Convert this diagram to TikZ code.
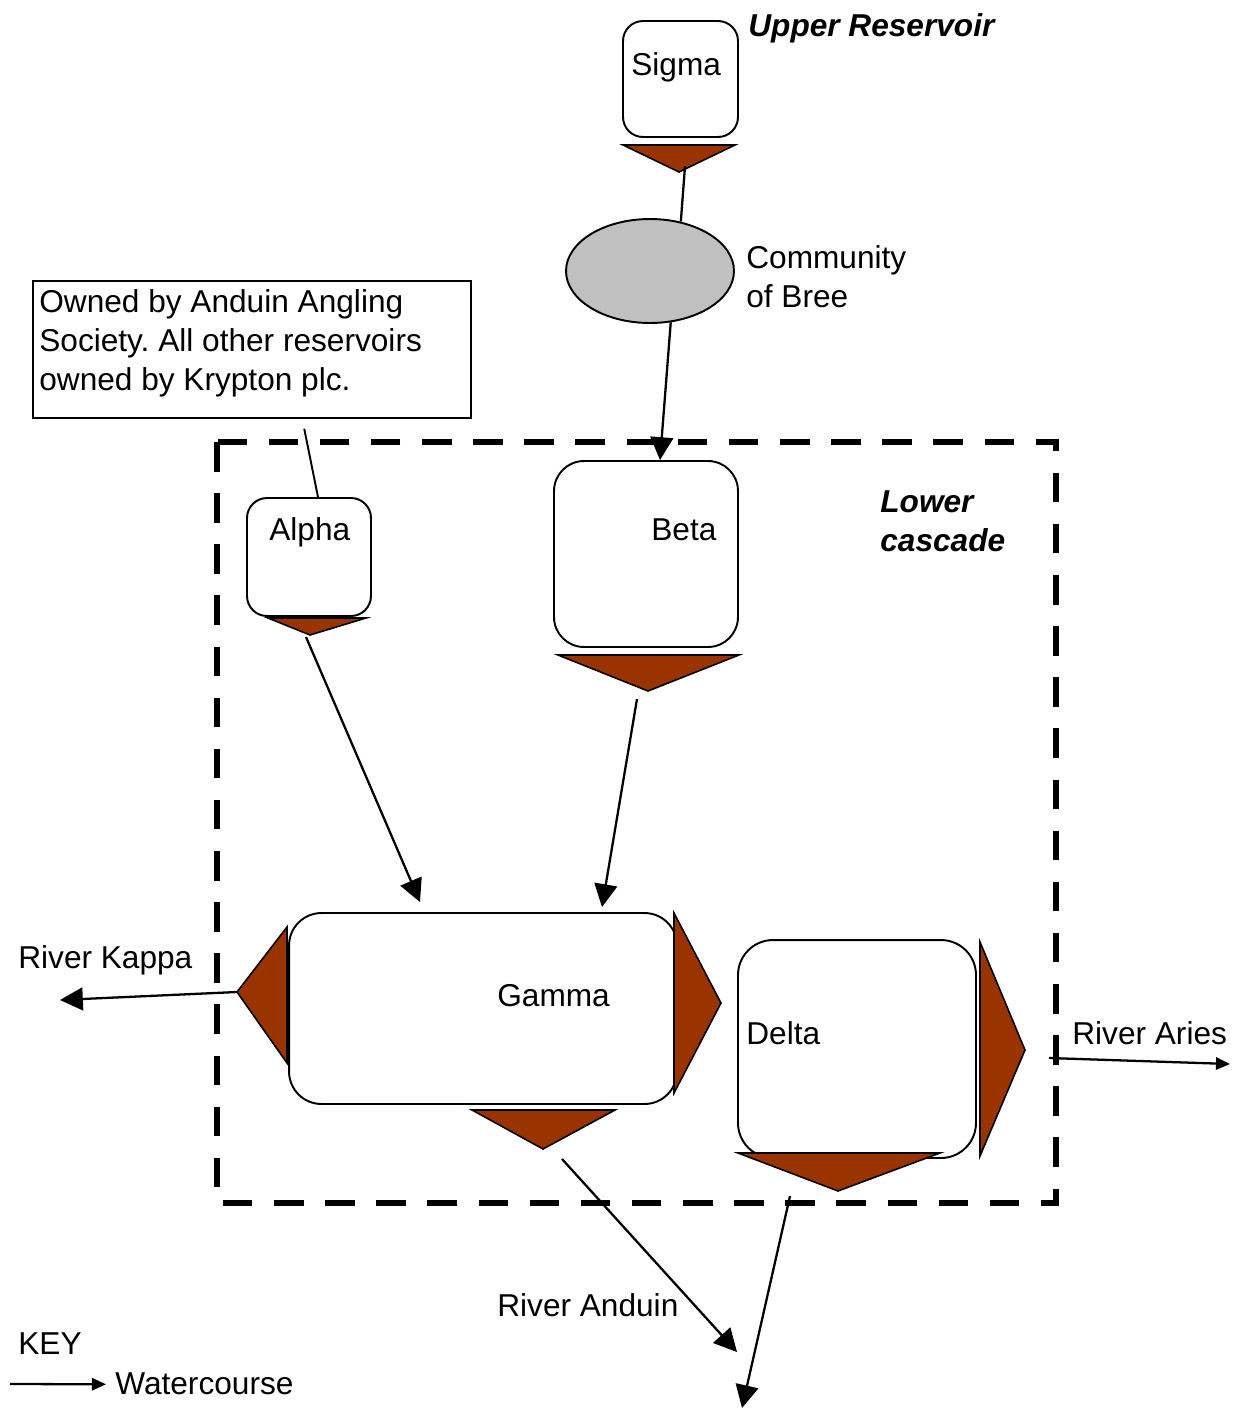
\documentclass[tikz,border=0pt]{standalone}
\usepackage{fontspec}
\setmainfont{Liberation Sans}
\usetikzlibrary{arrows.meta,calc,shapes.geometric}
\definecolor{valvebrown}{HTML}{993300}
\definecolor{breegray}{HTML}{C0C0C0}
\frenchspacing

\begin{document}
\begin{tikzpicture}[x=0.02cm, y=-0.02cm,
    font=\fontsize{18}{22}\selectfont,
    res/.style={draw, line width=1.1pt, fill=white, rounded corners=#1},
    res/.default=0.4cm,
    valve/.style={draw, line width=0.9pt, fill=valvebrown, line join=miter},
    flow/.style={line width=1.3pt, -{Triangle[length=13pt,width=13pt]}},
    thin flow/.style={line width=1.3pt, -{Triangle[length=8pt,width=7pt]}},
    txt/.style={inner sep=0pt, anchor=base west},
    cascade/.style={line width=3.4pt, dash pattern=on 16.8pt off 12.3pt}]
    \useasboundingbox (0,0) rectangle (1238,1410);

    % Lower cascade boundary (base of a multi-line node is its last line)
    \draw[cascade] (217,442) rectangle (1056,1203);
    \node[txt, font=\fontsize{18}{22}\selectfont\bfseries\itshape, align=left] (lower) at (880,551) {Lower\\cascade};

    % Reservoirs
    \node[res] (sigma) at (680.5,79) [minimum width=2.3cm, minimum height=2.32cm] {};
    \node[res] (alpha) at (309,557) [minimum width=2.48cm, minimum height=2.36cm] {};
    \node[res=0.6cm] (beta) at (646,554) [minimum width=3.68cm, minimum height=3.72cm] {};
    \node[res=0.65cm] (gamma) at (483,1008.5) [minimum width=7.76cm, minimum height=3.82cm] {};
    \node[res=0.7cm] (delta) at (857,1049) [minimum width=4.76cm, minimum height=4.36cm] {};
    \node[ellipse, draw, line width=1.1pt, fill=breegray, minimum width=3.36cm, minimum height=2.08cm] (bree) at (650,271) {};

    % Reservoir names
    \node[txt] (sigmaname) at (631,75) {Sigma};
    \node[txt] (alphaname) at (269,540) {Alpha};
    \node[txt] (betaname) at (651,540) {Beta};
    \node[txt] (gammaname) at (497,1006) {Gamma};
    \node[txt] (deltaname) at (746,1044) {Delta};
    \node[txt, font=\fontsize{18}{22}\selectfont\bfseries\itshape] (upper) at (748,36) {Upper Reservoir};
    \node[txt, align=left] (breename) at (746,307) {Community\\of Bree};

    % Ownership note
    \node[draw, line width=0.9pt, minimum width=8.76cm, minimum height=2.74cm] (note) at (252,349.5) {};
    \node[txt, align=left] (notetext) at (39,390) {Owned by Anduin Angling\\Society. All other reservoirs\\owned by Krypton plc.};

    % Valves (outlets)
    \draw[valve] (623,145) -- (735,145) -- (679,172) -- cycle;
    \coordinate (sigmatip) at (679,172);
    \draw[valve] (268,618) -- (366,618) -- (310,635) -- cycle;
    \coordinate (alphatip) at (310,635);
    \draw[valve] (558,655) -- (739,655) -- (648,691) -- cycle;
    \coordinate (betatip) at (648,691);
    \draw[valve] (287,927) -- (287,1063) -- (237,992) -- cycle;
    \coordinate (gammaleft) at (237,992);
    \draw[valve] (674,913) -- (674,1093) -- (721,1003) -- cycle;
    \draw[valve] (472,1110) -- (615,1110) -- (543,1149) -- cycle;
    \coordinate (gammabottom) at (543,1149);
    \draw[valve] (980,942) -- (980,1156) -- (1025,1050) -- cycle;
    \coordinate (deltaright) at (1025,1050);
    \draw[valve] (738,1153) -- (940,1153) -- (838,1191) -- cycle;
    \coordinate (deltabottom) at (838,1191);

    % Free ends of watercourses
    \coordinate (kappa) at (60,1000);
    \coordinate (anduin) at (737,1352);
    \coordinate (deltaout) at (742,1408);
    \coordinate (aries) at (1230,1064);

    % Watercourses
    \draw[line width=1.3pt] ($(sigmatip)+(6,-6)$) -- (bree.58);
    \draw[flow] (bree.-68) -- ($(beta.north)+(14,0)$);
    \draw[line width=1.1pt] ($(note.south west)+(272,10)$) -- ($(alpha.north)+(9,0)$);
    \draw[flow] ($(alphatip)+(-4,2)$) -- ($(gamma.north)+(-63,-10)$);
    \draw[flow] ($(betatip)+(-11,8)$) -- ($(gamma.north)+(119,-5)$);
    \draw[flow] (gammaleft) -- (kappa);
    \draw[flow] ($(gammabottom)+(19,10)$) -- (anduin);
    \draw[flow] ($(deltabottom)+(-48,5)$) -- (deltaout);
    \draw[thin flow] ($(deltaright)+(24,8)$) -- (aries);

    % River names
    \node[txt] (kappaname) at (18,968) {River Kappa};
    \node[txt] (anduinname) at (497,1316) {River Anduin};
    \node[txt] (ariesname) at (1072,1044) {River Aries};

    % Key
    \node[txt] (key) at (18,1354) {KEY};
    \node[txt] (watercourse) at (115,1394) {Watercourse};
    \coordinate (keystart) at (10,1384);
    \draw[thin flow] (keystart) -- ($(watercourse.west)+(-9,1)$);
\end{tikzpicture}
\end{document}
